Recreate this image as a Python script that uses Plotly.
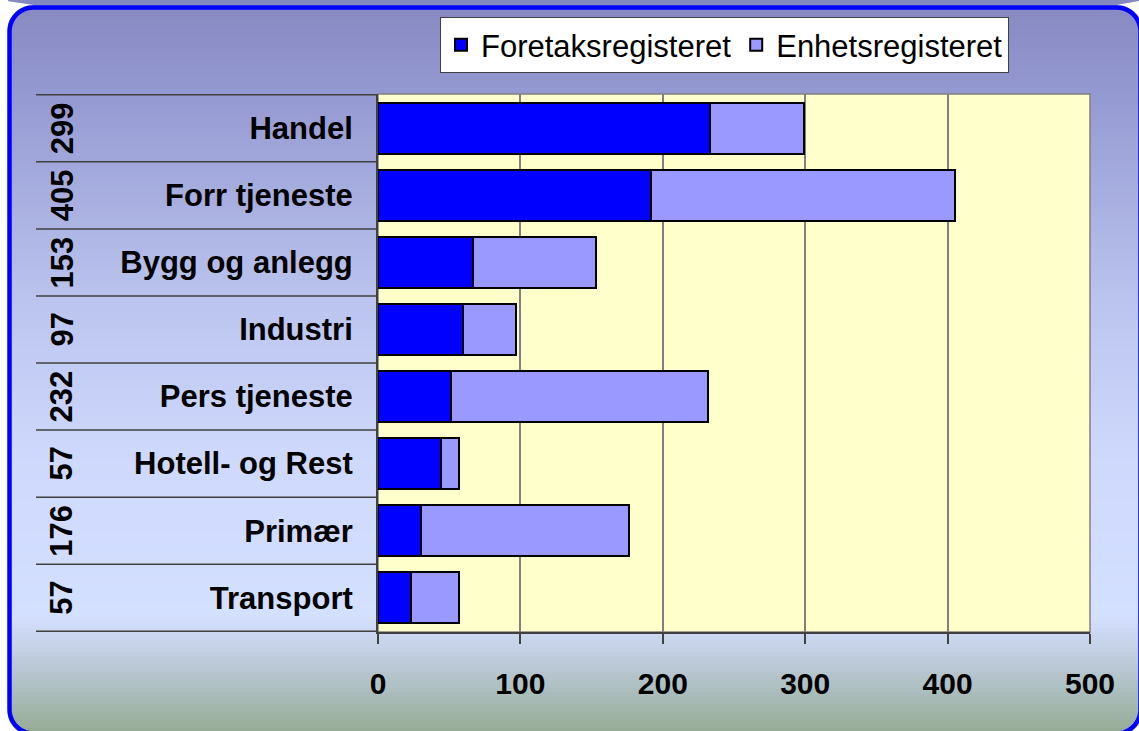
import plotly.graph_objects as go
import numpy as np

# ---------------- data ----------------
categories = ["Handel", "Forr tjeneste", "Bygg og anlegg", "Industri",
              "Pers tjeneste", "Hotell- og Rest", "Primær", "Transport"]
foretak = [233, 192, 67, 60, 51, 44, 30, 23]
enhets = [66, 213, 86, 37, 181, 13, 146, 34]
series_names = ["Foretaksregisteret", "Enhetsregisteret"]
x_ticks = [0, 100, 200, 300, 400, 500]
totals = [f + e for f, e in zip(foretak, enhets)]

# ---------------- geometry (pixels) ----------------
W, H = 1139, 731
L, R, T, B = 378, 1090, 94, 632


def px(X):
    return (X - L) / (R - L)


def py(Y):
    return (B - Y) / (B - T)


FONT = "Arial, Liberation Sans, sans-serif"

fig = go.Figure()
fig.add_trace(go.Bar(y=categories, x=foretak, name=series_names[0], orientation="h",
                     marker=dict(color="#0000FF", line=dict(color="#000000", width=2))))
fig.add_trace(go.Bar(y=categories, x=enhets, name=series_names[1], orientation="h",
                     marker=dict(color="#9999FF", line=dict(color="#000000", width=2))))

shapes = []
# gradient background strips
stops = [(0, (134, 136, 192)), (100, (150, 154, 210)), (300, (186, 196, 238)),
         (450, (206, 216, 252)), (615, (212, 224, 255)), (650, (196, 208, 228)),
         (690, (172, 190, 190)), (731, (150, 172, 150))]
sy = [s[0] for s in stops]
step = 4
for Y in range(0, H + step, step):
    c = [int(round(np.interp(Y + step / 2, sy, [s[1][k] for s in stops]))) for k in range(3)]
    shapes.append(dict(type="rect", xref="paper", yref="paper",
                       x0=px(8), x1=px(1145), y0=py(Y + step + 1), y1=py(Y),
                       fillcolor="rgb(%d,%d,%d)" % tuple(c), line=dict(width=0), layer="below"))

# corner masks and rounded border
bx0, by0, bx1, by1, r = 9.5, 7.5, 1140.5, 733.5, 24


def arc(cx, cy, a0, a1, n=16):
    pts = []
    for a in np.linspace(a0, a1, n):
        pts.append((cx + r * np.cos(np.radians(a)), cy + r * np.sin(np.radians(a))))
    return pts


def path_from(pts, close=True):
    s = "M " + " L ".join("%.5f,%.5f" % (px(x), py(y)) for x, y in pts)
    return s + (" Z" if close else "")


ro = r + 2.5
tl = [(0, 0)] + [(bx0 + r + ro * np.cos(np.radians(a)), by0 + r + ro * np.sin(np.radians(a))) for a in np.linspace(180, 270, 16)]
tr = [(W + 5, 0)] + [(bx1 - r + ro * np.cos(np.radians(a)), by0 + r + ro * np.sin(np.radians(a))) for a in np.linspace(270, 360, 16)]
bl = [(0, H + 5)] + [(bx0 + r + ro * np.cos(np.radians(a)), by1 - r + ro * np.sin(np.radians(a))) for a in np.linspace(90, 180, 16)]
br = [(W + 5, H + 5)] + [(bx1 - r + ro * np.cos(np.radians(a)), by1 - r + ro * np.sin(np.radians(a))) for a in np.linspace(0, 90, 16)]
for m in (tl, tr, bl, br):
    shapes.append(dict(type="path", xref="paper", yref="paper", path=path_from(m),
                       fillcolor="white", line=dict(width=0), layer="below"))

border = (arc(bx0 + r, by0 + r, 180, 270) + arc(bx1 - r, by0 + r, 270, 360) +
          arc(bx1 - r, by1 - r, 0, 90) + arc(bx0 + r, by1 - r, 90, 180))
shapes.append(dict(type="path", xref="paper", yref="paper", path=path_from(border),
                   fillcolor="rgba(0,0,0,0)", line=dict(color="#0000FF", width=4.5), layer="below"))

# plot area background
shapes.append(dict(type="rect", xref="paper", yref="paper", x0=0, x1=1, y0=0, y1=1,
                   fillcolor="#FFFFCC", line=dict(color="#808080", width=1.5), layer="below"))

# table lines on the left (category boundaries)
for k in range(len(categories) + 1):
    shapes.append(dict(type="line", xref="paper", yref="y", x0=px(36), x1=0,
                       y0=k - 0.5, y1=k - 0.5, line=dict(color="#404040", width=1.5), layer="below"))

annotations = []
for cat, tot in zip(categories, totals):
    annotations.append(dict(xref="paper", yref="y", x=px(62), y=cat, text=str(tot),
                            textangle=-90, showarrow=False, xanchor="center", yanchor="middle",
                            font=dict(family=FONT, size=31, color="#000000", weight="bold")))

fig.update_layout(
    width=W, height=H, barmode="stack", bargap=0.24,
    margin=dict(l=L, r=W - R, t=T, b=H - B, pad=0),
    paper_bgcolor="white", plot_bgcolor="rgba(0,0,0,0)",
    shapes=shapes, annotations=annotations,
    font=dict(family=FONT, color="#000000"),
    legend=dict(orientation="h", x=px(440), y=py(17), xanchor="left", yanchor="top",
                bgcolor="white", bordercolor="#404040", borderwidth=1,
                font=dict(family=FONT, size=31, color="#000000"), traceorder="normal"),
    xaxis=dict(range=[0, 500], tickvals=x_ticks, showgrid=True, gridcolor="#808080", gridwidth=1.5,
               showline=True, linecolor="#404040", linewidth=2, ticks="outside", ticklen=10,
               tickcolor="#404040", tickwidth=1.5, zeroline=False,
               tickfont=dict(family=FONT, size=30, color="#000000", weight="bold"),
               ticklabelstandoff=14),
    yaxis=dict(type="category", categoryorder="array", categoryarray=categories,
               autorange="reversed", showline=True, linecolor="#404040", linewidth=2,
               ticks="", showgrid=False, zeroline=False,
               tickfont=dict(family=FONT, size=31, color="#000000", weight="bold"),
               ticklabelstandoff=17),
)

fig.write_html("out.html", config={"displayModeBar": False},
               post_script="document.body.style.margin='0';document.body.style.overflow='hidden';")
